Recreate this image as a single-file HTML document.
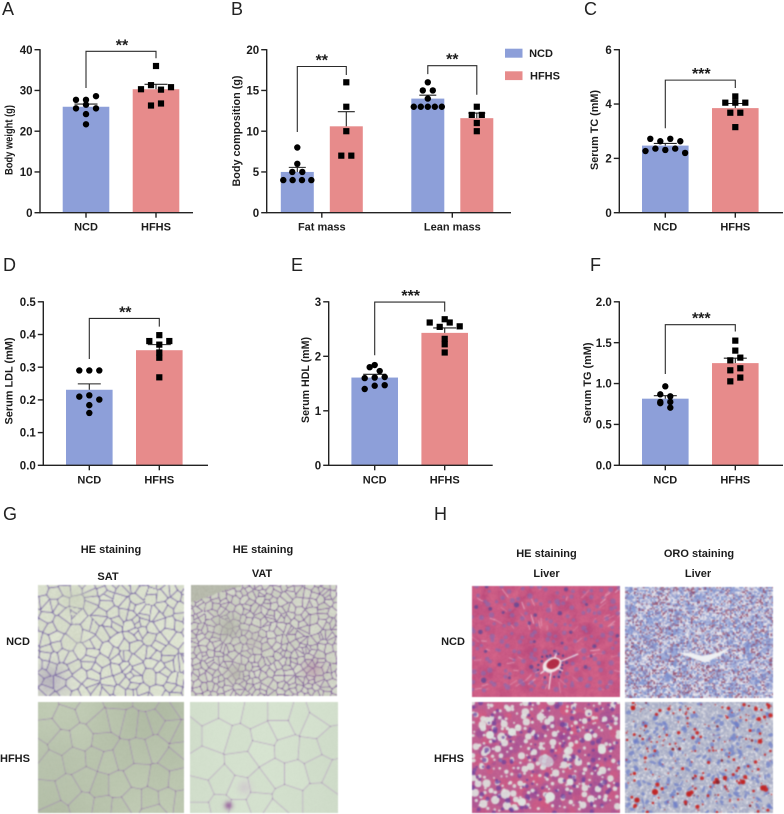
<!DOCTYPE html>
<html lang="en"><head><meta charset="utf-8"><title>Metabolic phenotype figure</title>
<style>
html,body{margin:0;padding:0;background:#fff}
#fig{position:relative;width:784px;height:814px;overflow:hidden;background:#fff;font-family:"Liberation Sans",Arial,sans-serif}
canvas{position:absolute;filter:blur(.5px)}
svg{position:absolute;left:0;top:0}
text{font-family:"Liberation Sans",Arial,sans-serif;fill:#1c1c1c}
.letter{font-size:18px;fill:#222}
.lab{font-size:11px;font-weight:bold;text-anchor:middle}
</style></head><body>
<div id="fig">
<canvas id="satNcd" width="146" height="111" style="left:38px;top:585px"></canvas>
<canvas id="vatNcd" width="146" height="111" style="left:191px;top:585px"></canvas>
<canvas id="satHfhs" width="146" height="111" style="left:38px;top:702px"></canvas>
<canvas id="vatHfhs" width="148" height="111" style="left:190px;top:702px"></canvas>
<canvas id="liverHeNcd" width="148" height="111" style="left:472px;top:586px"></canvas>
<canvas id="liverOroNcd" width="148" height="111" style="left:625px;top:587px"></canvas>
<canvas id="liverHeHfhs" width="148" height="111" style="left:472px;top:702px"></canvas>
<canvas id="liverOroHfhs" width="148" height="111" style="left:625px;top:702px"></canvas>
<svg id="chart" width="784" height="814" viewBox="0 0 784 814">
<text class="letter" x="2" y="15">A</text>
<text class="letter" x="231" y="15">B</text>
<text class="letter" x="584" y="15">C</text>
<text class="letter" x="3" y="271">D</text>
<text class="letter" x="291" y="271">E</text>
<text class="letter" x="590" y="271">F</text>
<text class="letter" x="3" y="520">G</text>
<text class="letter" x="434" y="520">H</text>
<rect x="505" y="48.7" width="17.5" height="9" fill="#8D9FD9"/>
<rect x="505" y="71.3" width="17.5" height="8.8" fill="#E78B8B"/>
<text class="lab" x="541" y="57">NCD</text>
<text class="lab" x="545" y="79.5">HFHS</text>
<text class="lab" x="111" y="553">HE staining</text>
<text class="lab" x="263" y="553">HE staining</text>
<text class="lab" x="108" y="580">SAT</text>
<text class="lab" x="262" y="577">VAT</text>
<text class="lab" x="18" y="645">NCD</text>
<text class="lab" x="15" y="762">HFHS</text>
<text class="lab" x="546.5" y="557">HE staining</text>
<text class="lab" x="699" y="557">ORO staining</text>
<text class="lab" x="546.5" y="577">Liver</text>
<text class="lab" x="698" y="577">Liver</text>
<text class="lab" x="453" y="645">NCD</text>
<text class="lab" x="449" y="762">HFHS</text>
</svg>
</div>
<script>
/* ---------- chart data ---------- */
const groupLabels = ['NCD', 'HFHS'];
const bodyCompLabels = ['Fat mass', 'Lean mass'];

const bodyWeightTicks = [0, 10, 20, 30, 40];
const bodyWeightTickLabels = ['0', '10', '20', '30', '40'];
const bodyWeightMeans = [26, 30.3];
const bodyWeightSem = [0.65, 1.2];
const bodyWeightNcd = [27.7, 27.7, 28.6, 25.6, 26.5, 25.6, 24.2, 21.7];
const bodyWeightHfhs = [36, 30.3, 31.3, 30.2, 30.8, 26.3, 26.8];
const bodyWeightBracket = [39.6, 30.6, 37.9];

const bodyCompTicks = [0, 5, 10, 15, 20];
const bodyCompTickLabels = ['0', '5', '10', '15', '20'];
const fatMeans = [5, 10.6];
const fatSem = [0.56, 1.8];
const fatNcd = [8, 6, 5, 5, 4, 4, 4, 4];
const fatHfhs = [16, 13, 10, 7, 7];
const fatBracket = [17.94, 9.9, 16.9];
const leanMeans = [14, 11.6];
const leanSem = [0.42, 0.62];
const leanNcd = [16, 15, 15, 14, 13, 13, 13, 13, 13];
const leanHfhs = [13, 12, 12, 11, 10];
const leanBracket = [18.04, 17, 14.47];

const tcTicks = [0, 2, 4, 6];
const tcTickLabels = ['0', '2', '4', '6'];
const tcMeans = [2.47, 3.85];
const tcSem = [0.08, 0.17];
const tcNcd = [2.72, 2.63, 2.72, 2.63, 2.27, 2.36, 2.31, 2.36, 2.2];
const tcHfhs = [4.28, 4.05, 4.05, 4.05, 3.68, 3.68, 3.15];
const tcBracket = [4.88, 3.11, 4.59];

const ldlTicks = [0, 0.1, 0.2, 0.3, 0.4, 0.5];
const ldlTickLabels = ['0.0', '0.1', '0.2', '0.3', '0.4', '0.5'];
const ldlMeans = [0.231, 0.352];
const ldlSem = [0.018, 0.017];
const ldlNcd = [0.29, 0.29, 0.29, 0.21, 0.214, 0.201, 0.184, 0.16];
const ldlHfhs = [0.398, 0.38, 0.369, 0.38, 0.345, 0.329, 0.269];
const ldlBracket = [0.449, 0.325, 0.424];

const hdlTicks = [0, 1, 2, 3];
const hdlTickLabels = ['0', '1', '2', '3'];
const hdlMeans = [1.61, 2.43];
const hdlSem = [0.06, 0.09];
const hdlNcd = [1.8, 1.84, 1.73, 1.6, 1.61, 1.62, 1.4, 1.46, 1.47];
const hdlHfhs = [2.62, 2.54, 2.62, 2.55, 2.68, 2.32, 2.22, 2.07];
const hdlBracket = [2.995, 2.02, 2.82];

const tgTicks = [0, 0.5, 1, 1.5, 2];
const tgTickLabels = ['0.0', '0.5', '1.0', '1.5', '2.0'];
const tgMeans = [0.815, 1.25];
const tgSem = [0.037, 0.06];
const tgNcd = [0.966, 0.868, 0.844, 0.775, 0.775, 0.76, 0.705];
const tgHfhs = [1.525, 1.403, 1.284, 1.317, 1.162, 1.187, 1.027, 1.073];
const tgBracket = [1.72, 1.117, 1.636];

/* ---------- drawing ---------- */
const NS = 'http://www.w3.org/2000/svg';
const svg = document.getElementById('chart');
const BLUE = '#8D9FD9', RED = '#E78B8B', INK = '#222';

function make(tag, parent) {
  const el = document.createElementNS(NS, tag);
  parent.appendChild(el);
  return el;
}
function lineEl(parent, x1, y1, x2, y2, w) {
  const el = make('line', parent);
  el.setAttribute('x1', x1); el.setAttribute('y1', y1);
  el.setAttribute('x2', x2); el.setAttribute('y2', y2);
  el.setAttribute('stroke', INK); el.setAttribute('stroke-width', w);
  return el;
}
/* Prism-like swarm: values within a small pixel band share a row, centred on the bar */
function swarmOffsets(values, yScale, barW) {
  const idx = values.map((v, i) => i).sort((a, b) => values[a] - values[b]);
  const bins = [];
  let cur = null, startY = 0;
  idx.forEach(i => {
    const y = yScale(values[i]);
    if (!cur || startY - y > 4.6) { cur = []; bins.push(cur); startY = y; }
    cur.push(i);
  });
  const out = [];
  bins.forEach(b => {
    b.sort((p, q) => p - q);
    const n = b.length;
    const gap = n > 1 ? Math.min(10, 0.85 * barW / (n - 1)) : 0;
    b.forEach((i, k) => { out[i] = (k - (n - 1) / 2) * gap; });
  });
  return out;
}
function drawGroup(g, cx, barW, capW, mean, sem, pts, color, shape, yScale, base) {
  const bar = make('rect', g);
  
  
  bar.setAttribute('x', cx - barW / 2); bar.setAttribute('width', barW);
  bar.setAttribute('y', yScale(mean)); bar.setAttribute('height', base - yScale(mean));
  bar.setAttribute('fill', color);
  const whisker = lineEl(g, cx, yScale(mean), cx, yScale(mean + sem), 1.1);
  
  
  const cap = lineEl(g, cx - capW / 2, yScale(mean + sem), cx + capW / 2, yScale(mean + sem), 1.1);
  
  
  const off = swarmOffsets(pts, yScale, barW);
  pts.forEach((v, i) => {
    let m;
    if (shape === 'circle') {
      m = make('circle', g);
      m.setAttribute('cx', cx + off[i]); m.setAttribute('cy', yScale(v)); m.setAttribute('r', 3.2);
    } else {
      m = make('rect', g);
      m.setAttribute('x', cx + off[i] - 3.1); m.setAttribute('y', yScale(v) - 3.1);
      m.setAttribute('width', 6.2); m.setAttribute('height', 6.2);
    }
    
    
    m.setAttribute('fill', '#000');
  });
}
function drawBracket(g, xL, xR, vals, yScale) {
  const top = yScale(vals[0]);
  const p = make('path', g);
  
  
  p.setAttribute('d', 'M' + xL + ' ' + yScale(vals[1]) + 'V' + top + 'H' + xR + 'V' + yScale(vals[2]));
  p.setAttribute('fill', 'none'); p.setAttribute('stroke', '#2a2a2a'); p.setAttribute('stroke-width', 1.1);
  return top;
}
function drawStars(g, x, top, s) {
  const t = make('text', g);
  
  
  t.setAttribute('x', x); t.setAttribute('y', top - 1);
  t.setAttribute('text-anchor', 'middle');
  t.setAttribute('font-size', '16'); t.setAttribute('font-weight', 'bold');
  t.textContent = s;
}
function drawAxes(g, p) {
  const yScale = v => p.base - (v / p.max) * (p.base - p.top);
  const ya = lineEl(g, p.axisX, p.top - 0.6, p.axisX, p.base + 0.6, 1.4);
  
  
  const xa = lineEl(g, p.axisX - 0.7, p.base, p.axisEnd, p.base, 1.4);
  
  
  p.ticks.forEach((v, i) => {
    const tk = lineEl(g, p.axisX - 5.5, yScale(v), p.axisX, yScale(v), 1.4);
    
    
    const t = make('text', g);
    
    
    t.setAttribute('x', p.axisX - 7.5); t.setAttribute('y', yScale(v) + 4.1);
    t.setAttribute('text-anchor', 'end');
    t.setAttribute('font-size', '11.5'); t.setAttribute('font-weight', 'bold');
    t.textContent = p.tickLabels[i];
  });
  p.xTicks.forEach((x, i) => {
    const tk = lineEl(g, x, p.base, x, p.base + 5, 1.4);
    
    
    const t = make('text', g);
    
    
    t.setAttribute('x', x); t.setAttribute('y', p.base + 18);
    t.setAttribute('text-anchor', 'middle');
    t.setAttribute('font-size', '11'); t.setAttribute('font-weight', 'bold');
    t.textContent = p.xLabels[i];
  });
  const title = make('text', g);
  
  
  title.setAttribute('transform', 'translate(' + p.titleX + ' ' + p.titleY + ') rotate(-90)');
  title.setAttribute('text-anchor', 'middle');
  title.setAttribute('font-size', '11');
  title.setAttribute('font-weight', 'bold');
  title.setAttribute('textLength', p.titleLen);
  title.setAttribute('lengthAdjust', 'spacingAndGlyphs');
  title.textContent = p.title;
  return yScale;
}
function simplePanel(p) {
  const g = make('g', svg);
  
  
  const xA = p.axisX + 46, xB = p.axisX + 116;
  p.xTicks = [xA, xB];
  p.xLabels = groupLabels;
  const yScale = v => p.base - (v / p.max) * (p.base - p.top);
  drawGroup(g, xA, 46.6, 23, p.means[0], p.sem[0], p.ncd, BLUE, 'circle', yScale, p.base);
  drawGroup(g, xB, 46.6, 23, p.means[1], p.sem[1], p.hfhs, RED, 'square', yScale, p.base);
  drawAxes(g, p);
  const top = drawBracket(g, xA, xB, p.bracket, yScale);
  drawStars(g, (xA + xB) / 2 + 1, top, p.stars);
}
simplePanel({name:'body-weight-panel', axisX:40, axisEnd:193, top:49.7, base:212.7, max:40,
  ticks:bodyWeightTicks, tickLabels:bodyWeightTickLabels, means:bodyWeightMeans, sem:bodyWeightSem,
  ncd:bodyWeightNcd, hfhs:bodyWeightHfhs, bracket:bodyWeightBracket, stars:'**',
  title:'Body weight (g)', titleX:12.5, titleY:140, titleLen:70});
simplePanel({name:'serum-tc-panel', axisX:619.3, axisEnd:783, top:49.7, base:212.7, max:6,
  ticks:tcTicks, tickLabels:tcTickLabels, means:tcMeans, sem:tcSem,
  ncd:tcNcd, hfhs:tcHfhs, bracket:tcBracket, stars:'***',
  title:'Serum TC (mM)', titleX:598, titleY:130, titleLen:80});
simplePanel({name:'serum-ldl-panel', axisX:43.3, axisEnd:208, top:301.8, base:465.3, max:0.5,
  ticks:ldlTicks, tickLabels:ldlTickLabels, means:ldlMeans, sem:ldlSem,
  ncd:ldlNcd, hfhs:ldlHfhs, bracket:ldlBracket, stars:'**',
  title:'Serum LDL (mM)', titleX:12.5, titleY:381, titleLen:87});
simplePanel({name:'serum-hdl-panel', axisX:328.7, axisEnd:492.7, top:301.8, base:465.3, max:3,
  ticks:hdlTicks, tickLabels:hdlTickLabels, means:hdlMeans, sem:hdlSem,
  ncd:hdlNcd, hfhs:hdlHfhs, bracket:hdlBracket, stars:'***',
  title:'Serum HDL (mM)', titleX:309, titleY:380, titleLen:86});
simplePanel({name:'serum-tg-panel', axisX:619.3, axisEnd:783, top:301.8, base:465.3, max:2,
  ticks:tgTicks, tickLabels:tgTickLabels, means:tgMeans, sem:tgSem,
  ncd:tgNcd, hfhs:tgHfhs, bracket:tgBracket, stars:'***',
  title:'Serum TG (mM)', titleX:591, titleY:383, titleLen:81});

(function bodyComposition() {
  const p = {axisX:266.7, axisEnd:511, top:49.7, base:212.7, max:20, ticks:bodyCompTicks, tickLabels:bodyCompTickLabels,
    xTicks:[321.8, 452.3], xLabels:bodyCompLabels, title:'Body composition (g)', titleX:240, titleY:131, titleLen:111};
  const g = make('g', svg);
  
  
  const yScale = v => p.base - (v / p.max) * (p.base - p.top);
  const half = 24.5;
  const gx = p.xTicks;
  drawGroup(g, gx[0] - half, 33, 17, fatMeans[0], fatSem[0], fatNcd, BLUE, 'circle', yScale, p.base);
  drawGroup(g, gx[0] + half, 33, 17, fatMeans[1], fatSem[1], fatHfhs, RED, 'square', yScale, p.base);
  drawGroup(g, gx[1] - half, 33, 17, leanMeans[0], leanSem[0], leanNcd, BLUE, 'circle', yScale, p.base);
  drawGroup(g, gx[1] + half, 33, 17, leanMeans[1], leanSem[1], leanHfhs, RED, 'square', yScale, p.base);
  drawAxes(g, p);
  let t = drawBracket(g, gx[0] - half, gx[0] + half, fatBracket, yScale);
  drawStars(g, gx[0], t, '**');
  t = drawBracket(g, gx[1] - half, gx[1] + half, leanBracket, yScale);
  drawStars(g, gx[1], t, '**');
})();

/* ---------- micrograph textures (decorative photographs, not data) ---------- */
function prng(a) { return function () { a |= 0; a = a + 0x6D2B79F5 | 0; let t = Math.imul(a ^ a >>> 15, 1 | a); t = t + Math.imul(t ^ t >>> 7, 61 | t) ^ t; return ((t ^ t >>> 14) >>> 0) / 4294967296; }; }
function mix(a, b, t) { return [a[0] + (b[0] - a[0]) * t, a[1] + (b[1] - a[1]) * t, a[2] + (b[2] - a[2]) * t]; }
function voronoi(id, seeds, o) {
  const c = document.getElementById(id), ctx = c.getContext('2d'), w = c.width, h = c.height;
  const im = ctx.createImageData(w, h), R = prng(o.seed);
  const cellTint = seeds.map(() => R());
  const bis = (x, y, a, b) => {
    const ax = x - a[0], ay = y - a[1], bx = x - b[0], by = y - b[1];
    const gap = Math.hypot(a[0] - b[0], a[1] - b[1]) || 1;
    return (bx * bx + by * by - ax * ax - ay * ay) / (2 * gap);
  };
  for (let y = 0; y < h; y++) for (let x = 0; x < w; x++) {
    let d1 = 1e9, d2 = 1e9, d3 = 1e9, n1 = 0, n2 = 0, n3 = 0;
    for (let i = 0; i < seeds.length; i++) {
      const dx = x - seeds[i][0], dy = y - seeds[i][1], d = Math.sqrt(dx * dx + dy * dy);
      if (d < d1) { d3 = d2; n3 = n2; d2 = d1; n2 = n1; d1 = d; n1 = i; }
      else if (d < d2) { d3 = d2; n3 = n2; d2 = d; n2 = i; }
      else if (d < d3) { d3 = d; n3 = i; }
    }
    const edge = bis(x, y, seeds[n1], seeds[n2]), junc = Math.max(edge, bis(x, y, seeds[n1], seeds[n3]));
    let col = o.bg(x, y, cellTint[n1]);
    col = mix(col, o.line, Math.max(0, Math.min(1, 1 - edge / o.width)));
    const jr = o.jRand ? (R() < o.jRand ? 1 : 0.35) : 1;
    col = mix(col, o.junction, Math.max(0, Math.min(1, o.jAmt * jr * (1 - junc / o.jWidth))));
    if (o.patch) col = o.patch(x, y, col);
    const nz = (R() - .5) * o.noise, k = (y * w + x) * 4;
    im.data[k] = col[0] + nz; im.data[k + 1] = col[1] + nz; im.data[k + 2] = col[2] + nz; im.data[k + 3] = 255;
  }
  ctx.putImageData(im, 0, 0);
  return ctx;
}
function grid(cell, w, h, seed, jit, keep) {
  const R = prng(seed), s = [];
  for (let y = -cell / 2; y < h + cell; y += cell * .92) for (let x = -cell / 2; x < w + cell; x += cell) {
    if (R() > keep) continue;
    s.push([x + (R() - .5) * cell * jit, y + (R() - .5) * cell * jit]);
    if (R() < .12) s.push([x + (R() - .5) * cell * 1.3, y + (R() - .5) * cell * 1.3]);
  }
  return s;
}
function gauss(x, y, cx, cy, r) { const d = ((x - cx) * (x - cx) + (y - cy) * (y - cy)) / (r * r); return Math.exp(-d); }

voronoi('satNcd', grid(10.5, 146, 111, 11, 1.0, .9), {seed:3, width:.85, line:[128,110,168], junction:[92,76,146], jAmt:.7, jWidth:1.3, jRand:.5, noise:10,
  bg:(x, y, t) => [222 - t * 8, 228 - t * 8, 210 - t * 8],
  patch:(x, y, col) => { let g = gauss(x, y, 36, 14, 14) * .6; col = mix(col, [200, 208, 186], g);
    g = gauss(x, y, 12, 95, 16) * .35; col = mix(col, [130, 110, 165], g);
    g = gauss(x, y, 38, 55, 12) * .5; return mix(col, [208, 214, 194], g); }});
voronoi('vatNcd', grid(7, 146, 111, 23, 1.0, .92), {seed:4, width:.8, line:[140,106,160], junction:[92,68,134], jAmt:.7, jWidth:1.1, jRand:.5, noise:12,
  bg:(x, y, t) => [212 - t * 10, 216 - t * 10, 202 - t * 10],
  patch:(x, y, col) => {
    let g = gauss(x, y, 37, 42, 13) * .8; col = mix(col, [176, 178, 166], g);
    g = gauss(x, y, 44, 88, 10) * .65; col = mix(col, [176, 174, 166], g);
    g = gauss(x, y, 62, 58, 10) * .5; col = mix(col, [188, 184, 178], g);
    g = gauss(x, y, 122, 84, 10) * .35; col = mix(col, [170, 110, 150], g);
    const edgeY = 17 - x * 0.36 + (x > 38 ? (x - 38) * .15 : 0);
    if (y < edgeY && x < 50) return [182 + (x % 3), 186, 172];
    return col; }});
const satSeeds = [[22,22],[80,50],[150,25],[190,70],[235,60],[275,70],[320,75],[350,65],[390,30],[395,90],[425,105],[30,90],[70,125],[130,115],[110,175],[40,190],[195,125],[205,180],[175,170],[258,165],[305,155],[355,140],[405,175],[430,145],[145,240],[95,270],[30,290],[185,255],[240,255],[300,225],[365,235],[420,240],[285,300],[335,300],[390,295],[430,300],[135,310],[50,335],[195,320],[245,325],[345,335],[100,-10],[240,-10],[330,-8],[420,10],[-10,150]]
  .map(p => [p[0] / 3 - .5, p[1] / 3 - 2]);
voronoi('satHfhs', satSeeds, {seed:5, width:.8, line:[166,150,176], junction:[118,78,138], jAmt:.6, jWidth:.9, noise:4,
  bg:(x, y, t) => { const s = 8 * Math.sin(x / 30 + 1) * Math.cos(y / 45); return [188 + s - t * 5, 199 + s - t * 5, 176 + s - t * 5]; },
  patch:(x, y, col) => mix(col, [165, 175, 157], gauss(x, y, 15, 55, 30) * .2)});
const vatSeeds = [[50,25],[125,25],[195,40],[275,40],[325,55],[400,30],[370,75],[420,130],[-10,100],[85,100],[150,120],[225,105],[275,80],[215,150],[295,145],[360,150],[160,190],[50,195],[255,220],[315,220],[385,200],[215,250],[145,265],[100,245],[30,275],[95,320],[210,305],[290,295],[390,295],[440,225],[145,330],[30,335],[255,335]]
  .map(p => [p[0] / 3 - 1, p[1] / 3 - 2]);
voronoi('vatHfhs', vatSeeds, {seed:6, width:.85, line:[190,176,196], junction:[110,70,140], jAmt:.55, jWidth:.8, noise:3,
  bg:(x, y, t) => { const s = 3 * Math.sin(x / 40) ; return [212 + s - t * 4, 225 + s - t * 4, 206 + s - t * 4]; },
  patch:(x, y, col) => { const g = gauss(x, y, 38, 103, 4) * .85; col = mix(col, [150, 95, 155], g);
    return mix(col, [205, 190, 205], gauss(x, y, 54, 85, 7) * .55); }});

function speckle(ctx, w, h, seed, a, n) { const R = prng(seed), im = ctx.getImageData(0, 0, w, h), d = im.data;
  for (let i = 0; i < d.length; i += 4) { const q = (R() - .5) * n; d[i] += q; d[i + 1] += q; d[i + 2] += q; }
  ctx.putImageData(im, 0, 0); }
(function liverHeNcd() {
  const c = document.getElementById('liverHeNcd'), x = c.getContext('2d'), R = prng(31), w = c.width, h = c.height;
  x.fillStyle = '#CA5A85'; x.fillRect(0, 0, w, h);
  for (let i = 0; i < 300; i++) { x.fillStyle = R() > .5 ? 'rgba(214,106,140,.3)' : 'rgba(184,72,122,.25)'; x.beginPath(); x.arc(R() * w, R() * h, 2 + R() * 5, 0, 7); x.fill(); }
  const cx = 80, cy = 79;
  x.lineCap = 'round';
  for (let i = 0; i < 70; i++) {
    const px = R() * w, py = R() * h, a = Math.atan2(py - cy, px - cx) + (R() - .5) * .7, l = 3 + R() * 8;
    x.strokeStyle = 'rgba(238,195,212,' + (.4 + R() * .4) + ')'; x.lineWidth = .5 + R() * .6;
    x.beginPath(); x.moveTo(px, py); x.lineTo(px + Math.cos(a) * l, py + Math.sin(a) * l); x.stroke();
  }
  for (let gy = 3; gy < h; gy += 9) for (let gx = 3; gx < w; gx += 9) {
    const px = gx + (R() - .5) * 8, py = gy + (R() - .5) * 8, r = 1.5 + R() * 1.2;
    x.fillStyle = R() > .12 ? 'rgba(134,108,178,.62)' : 'rgba(92,72,150,.8)'; x.beginPath(); x.arc(px, py, r, 0, 7); x.fill();
  }
  for (let i = 0; i < 18; i++) { const a = i / 18 * 6.28, r = 9 + R() * 6; x.fillStyle = '#55458f'; x.beginPath(); x.arc(cx + Math.cos(a) * r, cy + Math.sin(a) * r, 1.2, 0, 7); x.fill(); }
  x.strokeStyle = '#f0dfe6'; x.lineWidth = 1.3;
  [[-.4,28],[1.7,24],[-1.2,12],[.5,12],[2.5,14]].forEach(s => { x.beginPath(); x.moveTo(cx, cy); x.lineTo(cx + Math.cos(s[0]) * s[1], cy + Math.sin(s[0]) * s[1]); x.stroke(); });
  x.fillStyle = '#f1e6e8'; x.beginPath(); x.ellipse(cx, cy, 10, 7, -.45, 0, 7); x.fill();
  x.fillStyle = '#B32E47'; x.beginPath(); x.ellipse(cx + 1, cy - 1, 7, 4.6, -.45, 0, 7); x.fill();
  speckle(x, w, h, 8, 1, 8);
})();
(function liverHeHfhs() {
  const c = document.getElementById('liverHeHfhs'), x = c.getContext('2d'), R = prng(41), w = c.width, h = c.height;
  x.fillStyle = '#BF5F90'; x.fillRect(0, 0, w, h);
  for (let i = 0; i < 170; i++) { x.fillStyle = R() > .5 ? 'rgba(220,88,122,.35)' : 'rgba(140,70,155,.3)'; x.beginPath(); x.arc(R() * w, R() * h, 2 + R() * 5, 0, 7); x.fill(); }
  for (let gy = 2; gy < h; gy += 6.5) for (let gx = 2; gx < w; gx += 6.5) {
    if (R() < .2) continue;
    const r = 1 + R() * R() * 4;
    x.fillStyle = 'rgba(222,226,222,.92)'; x.beginPath(); x.arc(gx + (R() - .5) * 6, gy + (R() - .5) * 6, r, 0, 7); x.fill();
  }
  for (let i = 0; i < 150; i++) { x.fillStyle = 'rgba(108,66,158,.72)'; x.beginPath(); x.arc(R() * w, R() * h, 1.1 + R() * 1.5, 0, 7); x.fill(); }
  x.fillStyle = 'rgba(205,205,218,.8)'; x.beginPath(); x.ellipse(74, 59, 8, 6, .4, 0, 7); x.fill();
  [[78,95,5],[50,100,4],[40,30,4],[18,33,4],[116,35,4],[130,48,4],[98,80,3.5]].forEach(d => { x.fillStyle = '#DFE3E0'; x.beginPath(); x.arc(d[0], d[1], d[2], 0, 7); x.fill(); });
  speckle(x, w, h, 9, 1, 8);
})();
function oroNcd() {
  const c = document.getElementById('liverOroNcd'), x = c.getContext('2d'), R = prng(51), w = c.width, h = c.height;
  x.fillStyle = '#B2AFCB'; x.fillRect(0, 0, w, h);
  const palette = ['#8498D2', '#8498D2', '#7D92CE', '#E9E8EE', '#F1F0F4', '#E2E2EA', '#A5677F', '#8F4A6C', '#BBBAD6', '#C8C7DC', '#B4B8DA'];
  for (let yy = 0; yy < h; yy += 1.5) for (let xx = 0; xx < w; xx += 1.5) {
    x.fillStyle = palette[Math.floor(R() * palette.length)]; x.fillRect(xx, yy, 1.6, 1.6);
  }
  for (let i = 0; i < 90; i++) { x.fillStyle = 'rgba(124,146,210,.5)'; x.beginPath(); x.arc(R() * w, R() * h, 1.5 + R() * 2.5, 0, 7); x.fill(); }
  const slit = [[620,205],[655,208],[700,215],[745,205],[790,185],[750,215],[705,236],[650,216]].map(p => [p[0] / 3 - 155, p[1] / 3 - 3]);
  x.fillStyle = '#EFF1F4'; x.beginPath(); slit.forEach((p, i) => i ? x.lineTo(p[0], p[1]) : x.moveTo(p[0], p[1])); x.closePath(); x.fill();
}
oroNcd();
(function oroHfhs() {
  const c = document.getElementById('liverOroHfhs'), x = c.getContext('2d'), R = prng(61), w = c.width, h = c.height;
  x.fillStyle = '#BFC2D1'; x.fillRect(0, 0, w, h);
  for (let yy = 0; yy < h; yy += 1.5) for (let xx = 0; xx < w; xx += 1.5) { const v = R(); if (v < .45) { x.fillStyle = v < .1 ? '#E0E0E8' : '#A6ABC6'; x.fillRect(xx, yy, 1.6, 1.6); } }
  for (let i = 0; i < 230; i++) { x.fillStyle = 'rgba(108,125,200,.7)'; x.beginPath(); x.ellipse(R() * w, R() * h, 1 + R() * 2.6, .8 + R() * 1.5, R() * 3, 0, 7); x.fill(); }
  for (let i = 0; i < 240; i++) { const r = .5 + R() * R() * 1.9; x.fillStyle = R() > .15 ? '#C92B2B' : '#8A2430'; x.beginPath(); x.arc(R() * w, R() * h, r, 0, 7); x.fill(); }
  [[30,90,3],[64,92,2.8],[12,98,2.6],[118,80,2.4],[138,86,2.8],[100,76,2.2],[8,6,2.4]].forEach(d => { x.fillStyle = '#C02626'; x.beginPath(); x.arc(d[0], d[1], d[2], 0, 7); x.fill(); });
})();
</script>
</body></html>
